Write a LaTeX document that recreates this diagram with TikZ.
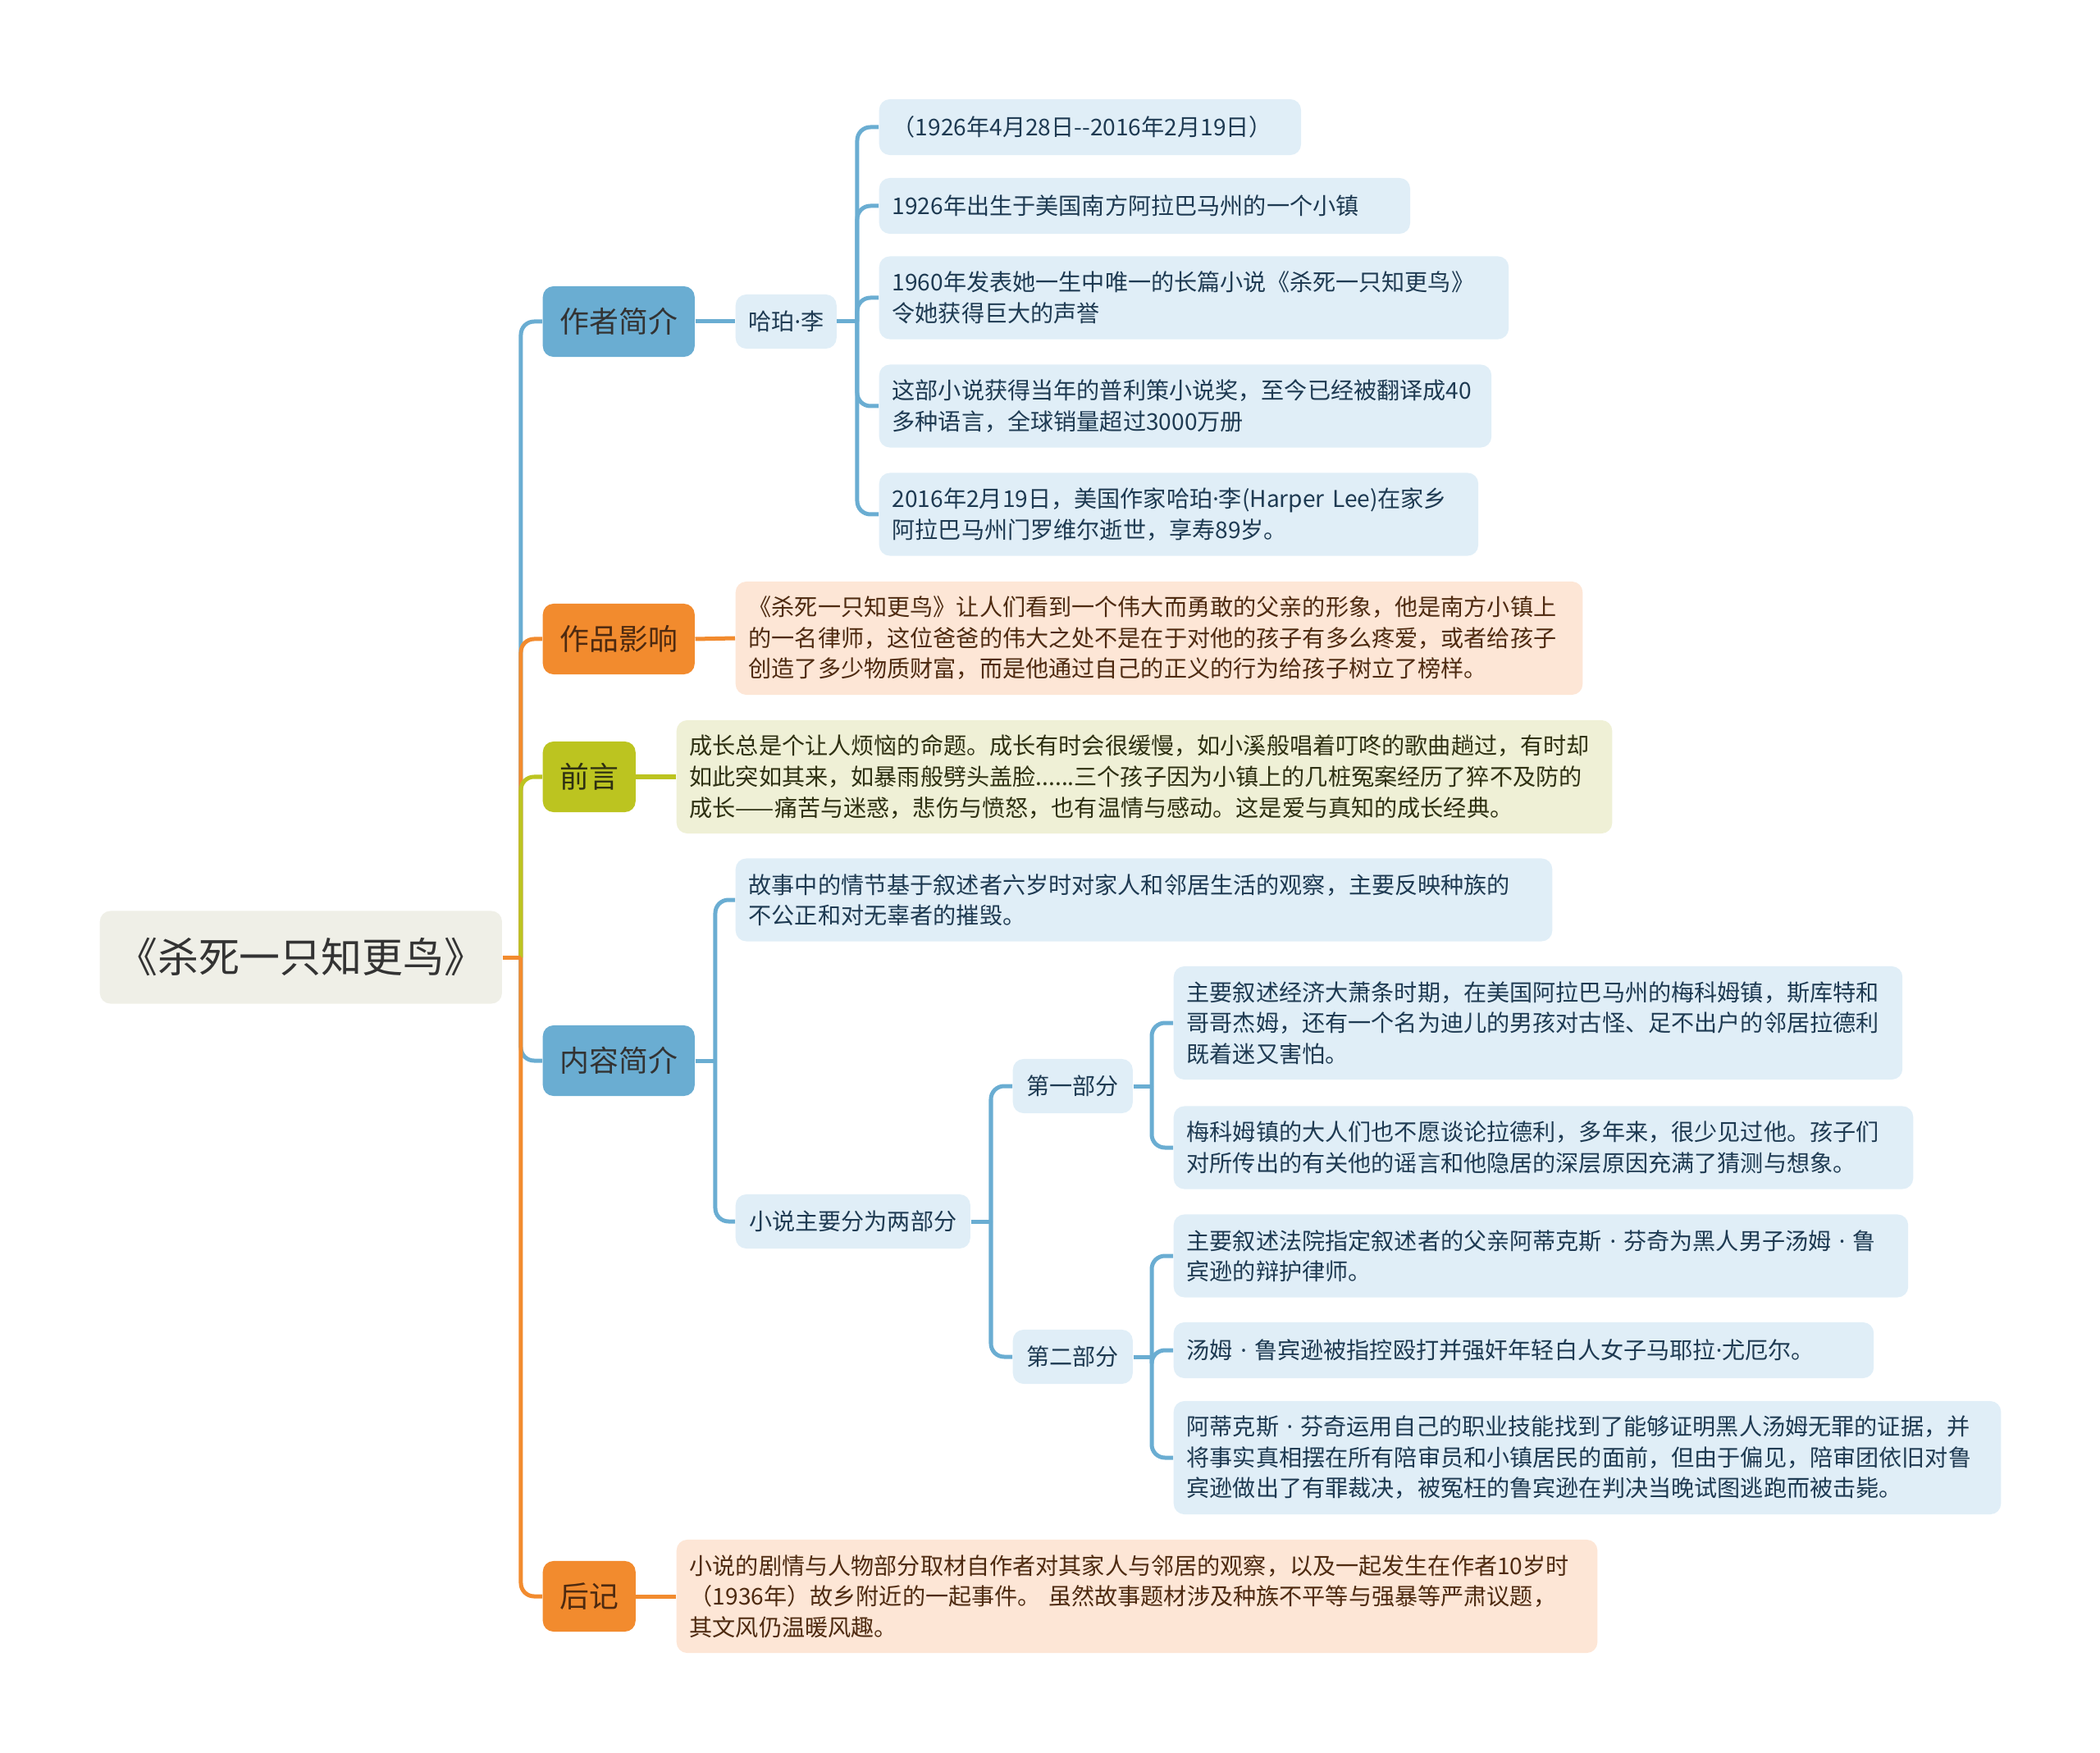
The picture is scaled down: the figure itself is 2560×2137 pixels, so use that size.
\documentclass[tikz,border=0pt]{standalone}
\usepackage{fontspec}
\setmainfont{Noto Sans CJK SC}
\newfontfamily\dotfont{Noto Sans}
\usetikzlibrary{positioning}
\definecolor{mblue}{HTML}{6AADD2}
\definecolor{lblue}{HTML}{E0EEF7}
\definecolor{morange}{HTML}{F28B2E}
\definecolor{lorange}{HTML}{FDE6D6}
\definecolor{molive}{HTML}{BCC420}
\definecolor{lolive}{HTML}{EFF0D6}
\definecolor{rootbg}{HTML}{EFEFE7}
\definecolor{tblue}{HTML}{1E3A52}
\definecolor{tbrown}{HTML}{4E2A10}
\definecolor{tolive}{HTML}{2E3012}
\definecolor{tdark}{HTML}{333333}
\newcommand{\leaffont}{\fontsize{8pt}{10.67pt}\selectfont}
\newcommand{\mdot}{{\dotfont ·}}
\tikzset{
  box/.style      = {rounded corners=0.13cm, inner xsep=0.16cm, inner ysep=0.06cm},
  rootbox/.style  = {box, fill=rootbg, text=tdark, minimum width=4.9cm, minimum height=1.13cm,
                     font=\fontsize{14.2pt}{17pt}\selectfont},
  topic/.style    = {box, anchor=west, minimum width=1.85cm, minimum height=0.86cm,
                     font=\fontsize{10.2pt}{12pt}\selectfont},
  tpblue/.style   = {topic, fill=mblue, text=tdark},
  tporange/.style = {topic, fill=morange, text=tbrown},
  tpolive/.style  = {topic, fill=molive, text=tolive},
  subbox/.style   = {box, anchor=west, fill=lblue, text=tblue, minimum height=0.66cm,
                     inner xsep=0.14cm, font=\leaffont},
  leaf/.style     = {box, anchor=west, align=left, font=\leaffont},
  lfblue/.style   = {leaf, fill=lblue, text=tblue},
  lforange/.style = {leaf, fill=lorange, text=tbrown},
  lfolive/.style  = {leaf, fill=lolive, text=tolive},
  hone/.style     = {minimum height=0.68cm},
  htwo/.style     = {minimum height=1.01cm},
  hthree/.style   = {minimum height=1.38cm},
  ln/.style       = {line width=0.05cm},
  lnblue/.style   = {ln, draw=mblue},
  lnorange/.style = {ln, draw=morange},
  lnolive/.style  = {ln, draw=molive},
  elbow/.style    = {rounded corners=0.16cm},
}
\begin{document}
\begin{tikzpicture}[x=0.01cm, y=-0.01cm]
\useasboundingbox (0,0) rectangle (2560,2137);
% root and main topics
\node[rootbox, anchor=west] (root) at (121,1167) {《杀死一只知更鸟》};
\node[tpblue] (author) at (661,392) {作者简介};
\node[tporange] (impact) at (661,779) {作品影响};
\node[tpolive, minimum width=1.13cm] (preface) at (661,947) {前言};
\node[tpblue] (content) at (661,1293) {内容简介};
\node[tporange, minimum width=1.13cm] (postscript) at (661,1946) {后记};

% author
\node[subbox, minimum width=1.23cm] (harper) at (896,392) {哈珀\mdot 李};
\node[lfblue, hone, text width=4.82cm] (au1) at (1071,155) {（1926年4月28日-{}-2016年2月19日）};
\node[lfblue, hone, text width=6.15cm] (au2) at (1071,251) {1926年出生于美国南方阿拉巴马州的一个小镇};
\node[lfblue, htwo, text width=7.35cm] (au3) at (1071,363)
  {1960年发表她一生中唯一的长篇小说《杀死一只知更鸟》\\令她获得巨大的声誉};
\node[lfblue, htwo, text width=7.14cm] (au4) at (1071,495)
  {这部小说获得当年的普利策小说奖，至今已经被翻译成40\\多种语言，全球销量超过3000万册};
\node[lfblue, htwo, text width=6.98cm] (au5) at (1071,627)
  {2016年2月19日，美国作家哈珀\mdot 李(Harper~Lee)在家乡\\阿拉巴马州门罗维尔逝世，享寿89岁。};

% impact and preface
\node[lforange, hthree, text width=10.0cm] (impl) at (896,778)
  {《杀死一只知更鸟》让人们看到一个伟大而勇敢的父亲的形象，他是南方小镇上\\的一名律师，这位爸爸的伟大之处不是在于对他的孩子有多么疼爱，或者给孩子\\创造了多少物质财富，而是他通过自己的正义的行为给孩子树立了榜样。};
\node[lfolive, hthree, text width=11.08cm] (prel) at (824,947)
  {成长总是个让人烦恼的命题。成长有时会很缓慢，如小溪般唱着叮咚的歌曲趟过，有时却\\如此突如其来，如暴雨般劈头盖脸......三个孩子因为小镇上的几桩冤案经历了猝不及防的\\成长——痛苦与迷惑，悲伤与愤怒，也有温情与感动。这是爱与真知的成长经典。};

% content
\node[lfblue, htwo, text width=9.63cm] (ct1) at (896,1097)
  {故事中的情节基于叙述者六岁时对家人和邻居生活的观察，主要反映种族的\\不公正和对无辜者的摧毁。};
\node[subbox, minimum width=2.86cm] (parts) at (896,1489) {小说主要分为两部分};
\node[subbox, minimum width=1.46cm] (part1) at (1234,1324) {第一部分};
\node[subbox, minimum width=1.46cm] (part2) at (1234,1654) {第二部分};
\node[lfblue, hthree, text width=8.56cm] (p1a) at (1430,1247)
  {主要叙述经济大萧条时期，在美国阿拉巴马州的梅科姆镇，斯库特和\\哥哥杰姆，还有一个名为迪儿的男孩对古怪、足不出户的邻居拉德利\\既着迷又害怕。};
\node[lfblue, htwo, text width=8.69cm] (p1b) at (1430,1399)
  {梅科姆镇的大人们也不愿谈论拉德利，多年来，很少见过他。孩子们\\对所传出的有关他的谣言和他隐居的深层原因充满了猜测与想象。};
\node[lfblue, htwo, text width=8.63cm] (p2a) at (1430,1531)
  {主要叙述法院指定叙述者的父亲阿蒂克斯~\mdot~芬奇为黑人男子汤姆~\mdot~鲁\\宾逊的辩护律师。};
\node[lfblue, hone, text width=8.21cm] (p2b) at (1430,1646)
  {汤姆~\mdot~鲁宾逊被指控殴打并强奸年轻白人女子马耶拉\mdot 尤厄尔。};
\node[lfblue, hthree, text width=9.76cm] (p2c) at (1430,1777)
  {阿蒂克斯~\mdot~芬奇运用自己的职业技能找到了能够证明黑人汤姆无罪的证据，并\\将事实真相摆在所有陪审员和小镇居民的面前，但由于偏见，陪审团依旧对鲁\\宾逊做出了有罪裁决，被冤枉的鲁宾逊在判决当晚试图逃跑而被击毙。};

% postscript
\node[lforange, hthree, text width=10.9cm] (postl) at (824,1946)
  {小说的剧情与人物部分取材自作者对其家人与邻居的观察，以及一起发生在作者10岁时\\（1936年）故乡附近的一起事件。~虽然故事题材涉及种族不平等与强暴等严肃议题，\\其文风仍温暖风趣。};

% connectors
\coordinate (sp0) at ([xshift=-0.26cm]root.east -| author.west);
\draw[lnblue, elbow] (sp0) |- (author.west);
\draw[lnorange, elbow] (sp0) |- (impact.west);
\draw[lnolive, elbow] (sp0) |- (preface.west);
\draw[lnblue, elbow] (sp0) |- (content.west);
\draw[lnorange, elbow] (sp0) |- (postscript.west);
\draw[lnorange] (root.east) -- (sp0);

\draw[lnblue] (author.east) -- (harper.west);
\coordinate (sp1) at ([xshift=-0.26cm]harper.east -| au1.west);
\draw[lnblue] (harper.east) -- (sp1);
\foreach \n in {au1,au2,au3,au4,au5}
  \draw[lnblue, elbow] (sp1) |- (\n.west);

\draw[lnorange] (impact.east) -- (impl.west);
\draw[lnolive] (preface.east) -- (prel.west);
\draw[lnorange] (postscript.east) -- (postl.west);

\coordinate (sp2) at ([xshift=-0.24cm]content.east -| ct1.west);
\draw[lnblue] (content.east) -- (sp2);
\foreach \n in {ct1,parts}
  \draw[lnblue, elbow] (sp2) |- (\n.west);

\coordinate (sp3) at ([xshift=-0.26cm]parts.east -| part1.west);
\draw[lnblue] (parts.east) -- (sp3);
\foreach \n in {part1,part2}
  \draw[lnblue, elbow] (sp3) |- (\n.west);

\coordinate (sp4) at ([xshift=-0.26cm]part1.east -| p1a.west);
\draw[lnblue] (part1.east) -- (sp4);
\foreach \n in {p1a,p1b}
  \draw[lnblue, elbow] (sp4) |- (\n.west);

\coordinate (sp5) at ([xshift=-0.26cm]part2.east -| p2a.west);
\draw[lnblue] (part2.east) -- (sp5);
\foreach \n in {p2a,p2b,p2c}
  \draw[lnblue, elbow] (sp5) |- (\n.west);
\end{tikzpicture}
\end{document}
